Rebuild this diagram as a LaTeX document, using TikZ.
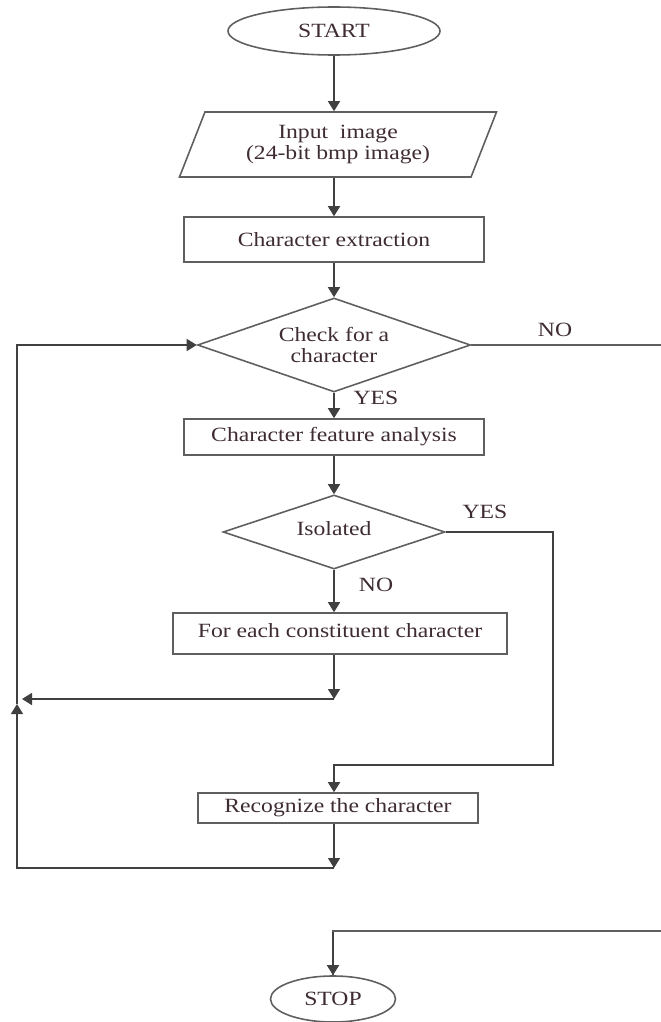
\documentclass[tikz,border=0pt]{standalone}
\usepackage{fontspec}
\setmainfont[FakeStretch=1.17]{Liberation Serif}
\usetikzlibrary{arrows.meta,positioning,shapes.geometric}
\definecolor{ink}{RGB}{62,44,50}
\definecolor{wire}{RGB}{95,95,95}
\tikzset{
  >={Triangle[length=2mm,width=2.4mm]},
  term/.style={ellipse,draw=wire,line width=0.9pt,text=ink,inner sep=0pt},
  io/.style={trapezium,trapezium left angle=56.5,trapezium right angle=123.5,
    trapezium stretches body,draw=wire,line width=0.9pt,text=ink,align=center,inner sep=0pt},
  proc/.style={rectangle,draw=wire,line width=0.9pt,text=ink,inner sep=0pt},
  decide/.style={diamond,draw=wire,line width=0.9pt,text=ink,align=center,inner sep=0pt,shape aspect=#1},
  decide/.default=2.9,
  flow/.style={->,draw=black!75,line width=0.9pt},
  wireline/.style={draw=wire,line width=0.9pt},
  tag/.style={text=ink,inner sep=0pt},
}

\begin{document}
\begin{tikzpicture}[x=0.2mm,y=-0.2mm,font=\fontsize{11.5}{11.8}\selectfont]
  \useasboundingbox (0,0) rectangle (661,1022);
  \node[term,minimum width=42.4mm,minimum height=9.6mm] (start) at (334,31) {START};
  \node[io,minimum width=63.4mm,minimum height=13mm] (input) at (338,144.5) {Input \ image\\(24-bit bmp image)};
  \node[proc,minimum width=60mm,minimum height=9mm] (extract) at (334,239.5) {Character extraction};
  \node[decide,minimum width=54.6mm,minimum height=18.8mm] (check) at (334,345) {Check for a\\character};
  \node[proc,minimum width=60mm,minimum height=7.2mm] (analysis) at (334,437) {Character feature analysis};
  \node[decide=3,minimum width=44.4mm,minimum height=14.8mm] (isolated) at (334,532) {\raisebox{1.4mm}{Isolated}};
  \node[proc,minimum width=66.8mm,minimum height=8.2mm] (each) at (340,633.5) {\raisebox{1.1mm}{For each constituent character}};
  \node[proc,minimum width=56mm,minimum height=6mm] (recog) at (338,808) {Recognize the character};
  \node[term,minimum width=25mm,minimum height=9.2mm] (stop) at (333,999) {STOP};

  \node[tag] (no1) at (555,330) {NO};
  \node[tag] (yes1) at (376,398) {YES};
  \node[tag] (yes2) at (485,512) {YES};
  \node[tag] (no2) at (376,585) {NO};

  \coordinate (join1) at (334,699);
  \coordinate (back1) at (22,699);
  \coordinate (turn1) at (553,765);
  \coordinate (join2) at (334,868);
  \coordinate (up1) at (17,704);
  \coordinate (edge1) at (668,345);
  \coordinate (edge2) at (668,931);

  \draw[flow] (start) -- (input.north -| start);
  \draw[flow] (input.south -| start) -- (extract);
  \draw[flow] (extract) -- (check);
  \draw[flow] (check) -- (analysis);
  \draw[flow] (analysis) -- (isolated);
  \draw[flow] (isolated) -- (each.north -| isolated.south);
  \draw[flow] (each.south -| join1) -- (join1);
  \draw[flow] (join1) -- (back1);
  \draw[flow] (isolated.east) -| (turn1) -| (recog.north -| join1);
  \draw[flow] (recog.south -| join1) -- (join2);
  \draw[flow] (join2) -| (up1);
  \draw[flow] (up1) |- (check.west);
  \draw[wireline] (check.east) -- (edge1) -- (edge2) -| (stop.north);
  \draw[flow] (edge2 -| stop.north) ++(0,1) -- (stop.north);
\end{tikzpicture}
\end{document}
